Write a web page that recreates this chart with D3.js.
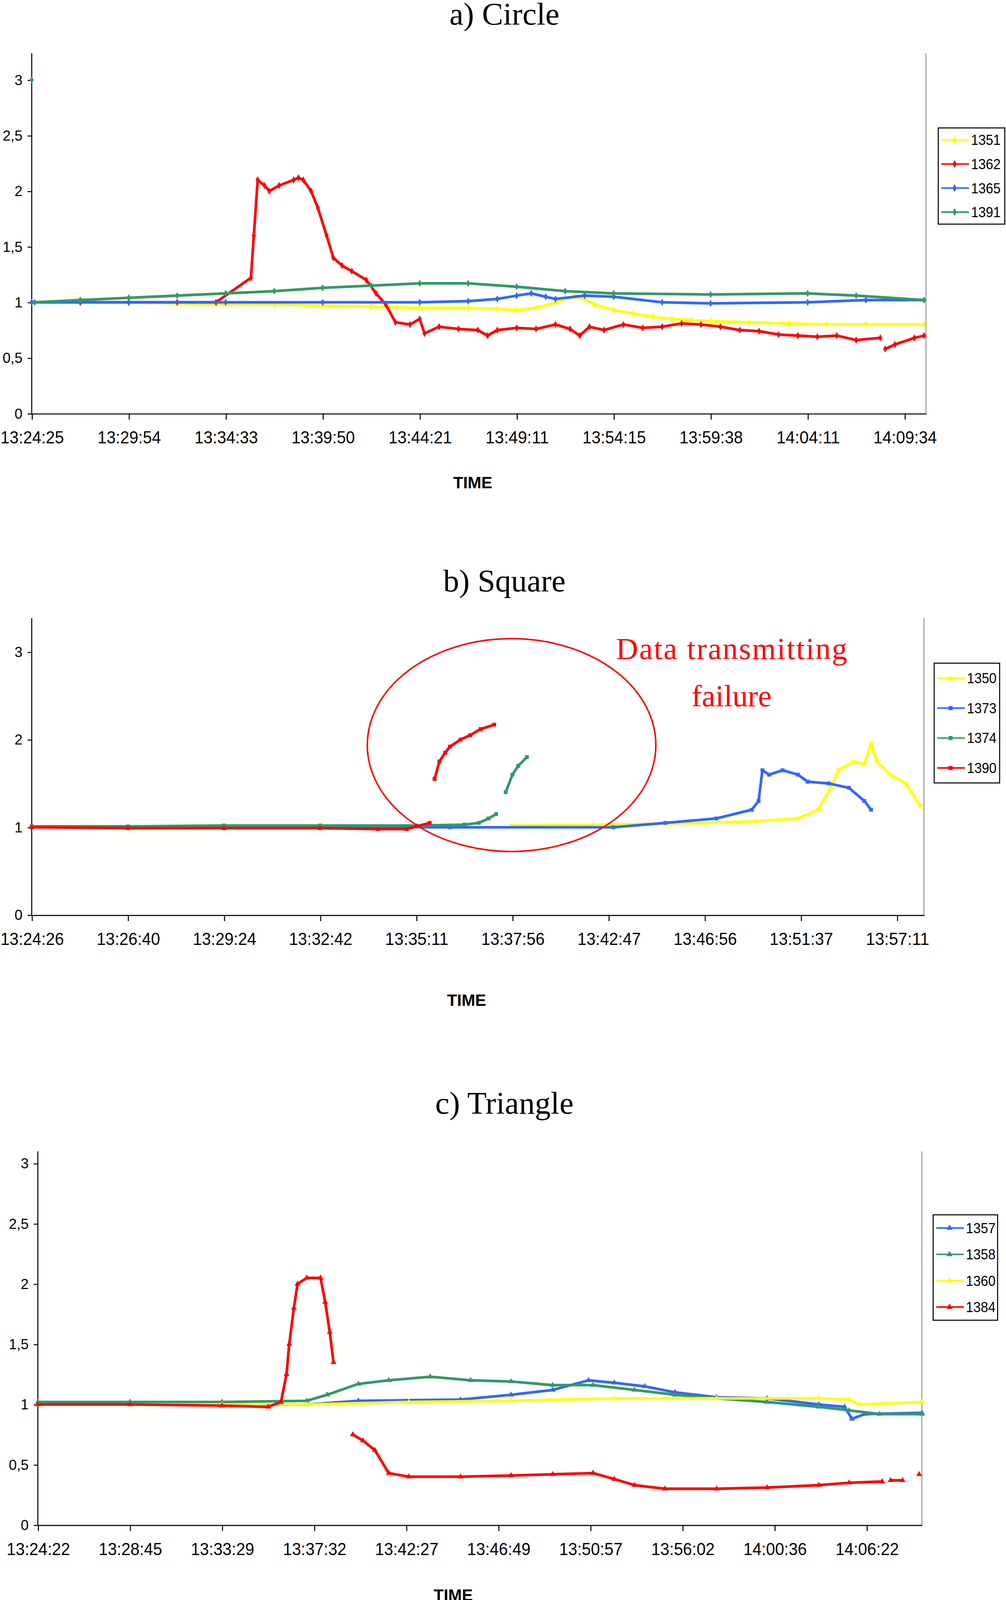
<!DOCTYPE html><html><head><meta charset="utf-8">
<script src="https://cdn.jsdelivr.net/npm/d3@7"></script>
<style>body{margin:0;background:#fff}</style></head><body>
<script>
// ---- data (x in sample units, ticks every 10 units) ----
const ticksA=["13:24:25","13:29:54","13:34:33","13:39:50","13:44:21","13:49:11","13:54:15","13:59:38","14:04:11","14:09:34"];
const ticksB=["13:24:26","13:26:40","13:29:24","13:32:42","13:35:11","13:37:56","13:42:47","13:46:56","13:51:37","13:57:11"];
const ticksC=["13:24:22","13:28:45","13:33:29","13:37:32","13:42:27","13:46:49","13:50:57","13:56:02","14:00:36","14:06:22"];
const a1351=[[0,1],[5,1],[10,1],[15,.99],[20,.98],[25,.98],[30,.97],[35,.96],[40,.95],[45,.95],[48,.94],[50,.93],[52,.95],[54,1],[56,1.05],[57,1.03],[58,.98],[60,.93],[62,.9],[64,.87],[66,.85],[68,.84],[70,.83],[74,.82],[78,.81],[82,.8],[86,.8],[92,.8]];
const a1362=[[0,1],[5,1],[10,1],[15,1],[19,1],[22.6,1.22],[22.9,1.6],[23.3,2.1],[24,2.05],[24.5,2],[25.5,2.05],[27,2.1],[27.5,2.12],[28,2.1],[28.8,2],[29.5,1.85],[30.4,1.6],[31.1,1.4],[32,1.33],[33,1.28],[34.5,1.2],[35.5,1.08],[36.5,.98],[37.5,.82],[39,.8],[40,.85],[40.5,.72],[42,.78],[44,.76],[46,.75],[47,.7],[48,.75],[50,.77],[52,.76],[54,.8],[55.5,.76],[56.5,.7],[57.5,.78],[59,.75],[61,.8],[63,.77],[65,.78],[67,.81],[69,.8],[71,.78],[73,.75],[75,.74],[77,.71],[79,.7],[81,.69],[83,.7],[85,.66],[87.5,.68],null,[88,.58],[89,.62],[91,.68],[92,.7]];
const a1365=[[0,1],[10,1],[20,1],[30,1],[40,1],[45,1.01],[48,1.03],[50,1.06],[51.5,1.08],[53,1.05],[54,1.03],[57,1.06],[60,1.05],[65,1],[70,.99],[80,1],[86,1.02],[92,1.02]];
const a1391=[[0,3],null,[0.3,1],[5,1.02],[10,1.04],[15,1.06],[20,1.08],[25,1.1],[30,1.13],[35,1.15],[40,1.17],[45,1.17],[50,1.14],[55,1.1],[60,1.08],[70,1.07],[80,1.08],[85,1.06],[92,1.02]];
const b1350=[[49.9,1.02],[60,1.03],[70,1.05],[75.4,1.07],[79.7,1.1],[81.8,1.2],[83.1,1.45],[83.9,1.65],[85.5,1.75],[86.6,1.72],[87.3,1.95],[87.9,1.75],[89.3,1.6],[90.9,1.5],[92.4,1.25]];
const b1373=[[0,1.01],[20,1.01],[43.5,1],[60.5,1],[65.9,1.05],[71.2,1.1],[74.9,1.2],[75.6,1.3],[76,1.65],[76.7,1.6],[78.1,1.65],[79.7,1.6],[80.7,1.52],[82.9,1.5],[85,1.45],[86.6,1.3],[87.3,1.2]];
const b1374=[[0,1.01],[10,1.01],[20,1.02],[30,1.02],[40,1.02],[45,1.03],[46.5,1.05],[47.5,1.1],[48.3,1.15],null,[49.3,1.4],[50,1.6],[50.6,1.7],[51.5,1.8]];
const b1390=[[0,1],[10,.99],[20,.99],[30,.99],[36,.98],[39,.98],[41.4,1.05],null,[41.9,1.55],[42.4,1.75],[43,1.85],[43.5,1.92],[44.6,2],[45.6,2.05],[46.7,2.12],[48.1,2.17]];
const c1357=[[0,1],[10,1],[20,1],[29.2,1],[34.8,1.03],[45.9,1.04],[51.4,1.08],[55.9,1.12],[59.8,1.2],[62.6,1.18],[65.9,1.15],[69.2,1.1],[73.7,1.06],[79.2,1.05],[84.8,1],[87.6,.98],[88.4,.88],[89.8,.92],[96,.93]];
const c1358=[[0,1.02],[10,1.02],[20,1.02],[29.2,1.03],[31.4,1.08],[34.8,1.17],[38.1,1.2],[42.6,1.23],[47,1.2],[51.4,1.19],[55.9,1.16],[60.3,1.16],[64.8,1.12],[69.2,1.08],[73.7,1.05],[79.2,1.02],[84.8,.98],[88.1,.95],[91.4,.92],[96,.92]];
const c1360=[[0,1],[10,1],[20,1],[29.2,1],[40.3,1.02],[51.4,1.03],[62.6,1.05],[73.7,1.05],[84.8,1.05],[88.1,1.04],[89.2,1],[96,1.02]];
const c1384=[[0,1],[10,1],[20,.99],[25,.98],[26.4,1.02],[27,1.25],[27.3,1.5],[27.8,1.8],[28.2,2],[29.2,2.05],[30.7,2.05],[31.2,1.85],[31.7,1.6],[32.1,1.35],null,[34.2,.75],[35.3,.7],[36.6,.62],[38.1,.43],[40.3,.4],[45.9,.4],[51.4,.41],[55.9,.42],[60.3,.43],[62.6,.38],[64.8,.33],[68.1,.3],[73.7,.3],[79.2,.31],[84.8,.33],[88.1,.35],[91.7,.36],null,[92.6,.37],[93.9,.37],null,[95.7,.42]];

const S=2.62;
const YEL="#ffff00",RED="#ff0000",BLUE="#3366ff",GRN="#339966";
const charts=[
 {title:"a) Circle",ty:14,top:52,bot:404,l:31,r:905,dom:92.2,ymax:3.24,yt:[0,.5,1,1.5,2,2.5,3],ticks:ticksA,timeY:471,timeX:462,
  leg:{x:917,y:125,w:65,h:94},shape:d3.symbolDiamond,
  series:[["1351",YEL,a1351],["1362",RED,a1362],["1365",BLUE,a1365],["1391",GRN,a1391]]},
 {title:"b) Square",ty:568,top:604,bot:894,l:31,r:903,dom:92.8,ymax:3.385,yt:[0,1,2,3],ticks:ticksB,timeY:977,timeX:456,
  leg:{x:913,y:648,w:64,h:117},shape:d3.symbolSquare,
  series:[["1350",YEL,b1350],["1373",BLUE,b1373],["1374",GRN,b1374],["1390",RED,b1390]]},
 {title:"c) Triangle",ty:1078,top:1125,bot:1490,l:37,r:901,dom:96,ymax:3.1,yt:[0,.5,1,1.5,2,2.5,3],ticks:ticksC,timeY:1558,timeX:443,
  leg:{x:912,y:1187,w:63,h:103},shape:d3.symbolTriangle,
  series:[["1357",BLUE,c1357],["1358",GRN,c1358],["1360",YEL,c1360],["1384",RED,c1384]]}
];
const svg=d3.select("body").append("svg").attr("width",2576).attr("height",4111);
const fmt=v=>String(v).replace(".",",");
charts.forEach((c,ci)=>{
 const g=svg.append("g").attr("transform",`scale(${S})`);
 const x=d3.scaleLinear().domain([0,c.dom]).range([c.l,c.r]);
 const y=d3.scaleLinear().domain([0,c.ymax]).range([c.bot,c.top]);
 g.append("text").attr("x",493).attr("y",c.ty+10).attr("text-anchor","middle").attr("font-family","Liberation Serif").attr("font-size",31).text(c.title);
 g.append("line").attr("x1",c.r).attr("x2",c.r).attr("y1",c.top).attr("y2",c.bot).attr("stroke","#999").attr("stroke-width",1);
 const xa=d3.axisBottom(x).tickValues(d3.range(10).map(i=>i*10)).tickFormat((d,i)=>c.ticks[i]).tickSize(6).tickSizeOuter(0);
 const gx=g.append("g").attr("transform",`translate(0,${c.bot})`).call(xa);
 gx.selectAll("text").attr("font-family","Liberation Sans").attr("font-size",17).attr("textLength",62).attr("lengthAdjust","spacingAndGlyphs").attr("dy","1.2em");
 gx.select(".domain").attr("stroke","#000");
 const ya=d3.axisLeft(y).tickValues(c.yt).tickFormat(fmt).tickSize(4).tickSizeOuter(0);
 const gy=g.append("g").attr("transform",`translate(${c.l},0)`).call(ya);
 gy.select(".domain").attr("d",`M0,${c.top}V${c.bot}`);
 gy.selectAll("text").attr("font-family","Liberation Sans").attr("font-size",14).attr("x",-9);
 g.append("text").attr("x",c.timeX).attr("y",c.timeY+6).attr("text-anchor","middle").attr("font-family","Liberation Sans").attr("font-weight","bold").attr("font-size",16).text("TIME");
 const line=d3.line().defined(d=>d!==null).x(d=>x(d[0])).y(d=>y(d[1]));
 c.series.forEach(([name,col,data])=>{
  g.append("path").attr("d",line(data)).attr("fill","none").attr("stroke",col).attr("stroke-width",2.6);
  g.selectAll(null).data(data.filter(d=>d)).enter().append("path")
   .attr("d",d3.symbol().type(c.shape).size(14)).attr("transform",d=>`translate(${x(d[0])},${y(d[1])})`).attr("fill",col);
 });
 const L=c.leg;
 g.append("rect").attr("x",L.x).attr("y",L.y).attr("width",L.w).attr("height",L.h).attr("fill","#fff").attr("stroke","#000").attr("stroke-width",1);
 const step=L.h/4;
 c.series.forEach(([name,col],i)=>{
  const yy=L.y+step*(i+0.5);
  g.append("line").attr("x1",L.x+3).attr("x2",L.x+30).attr("y1",yy).attr("y2",yy).attr("stroke",col).attr("stroke-width",1.5);
  g.append("path").attr("d",d3.symbol().type(c.shape).size(16)).attr("transform",`translate(${L.x+16},${yy})`).attr("fill",col);
  g.append("text").attr("x",L.x+32).attr("y",yy+5).attr("font-family","Liberation Sans").attr("font-size",14).attr("textLength",29).attr("lengthAdjust","spacingAndGlyphs").text(name);
 });
 if(ci===1){
  g.append("ellipse").attr("cx",500).attr("cy",728).attr("rx",141).attr("ry",104).attr("fill","none").attr("stroke",RED).attr("stroke-width",1.5);
  g.append("text").attr("x",715).attr("y",644).attr("text-anchor","middle").attr("font-family","Liberation Serif").attr("font-size",30).attr("fill",RED).attr("textLength",226).text("Data transmitting");
  g.append("text").attr("x",715).attr("y",690).attr("text-anchor","middle").attr("font-family","Liberation Serif").attr("font-size",30).attr("fill",RED).text("failure");
 }
});
</script></body></html>
